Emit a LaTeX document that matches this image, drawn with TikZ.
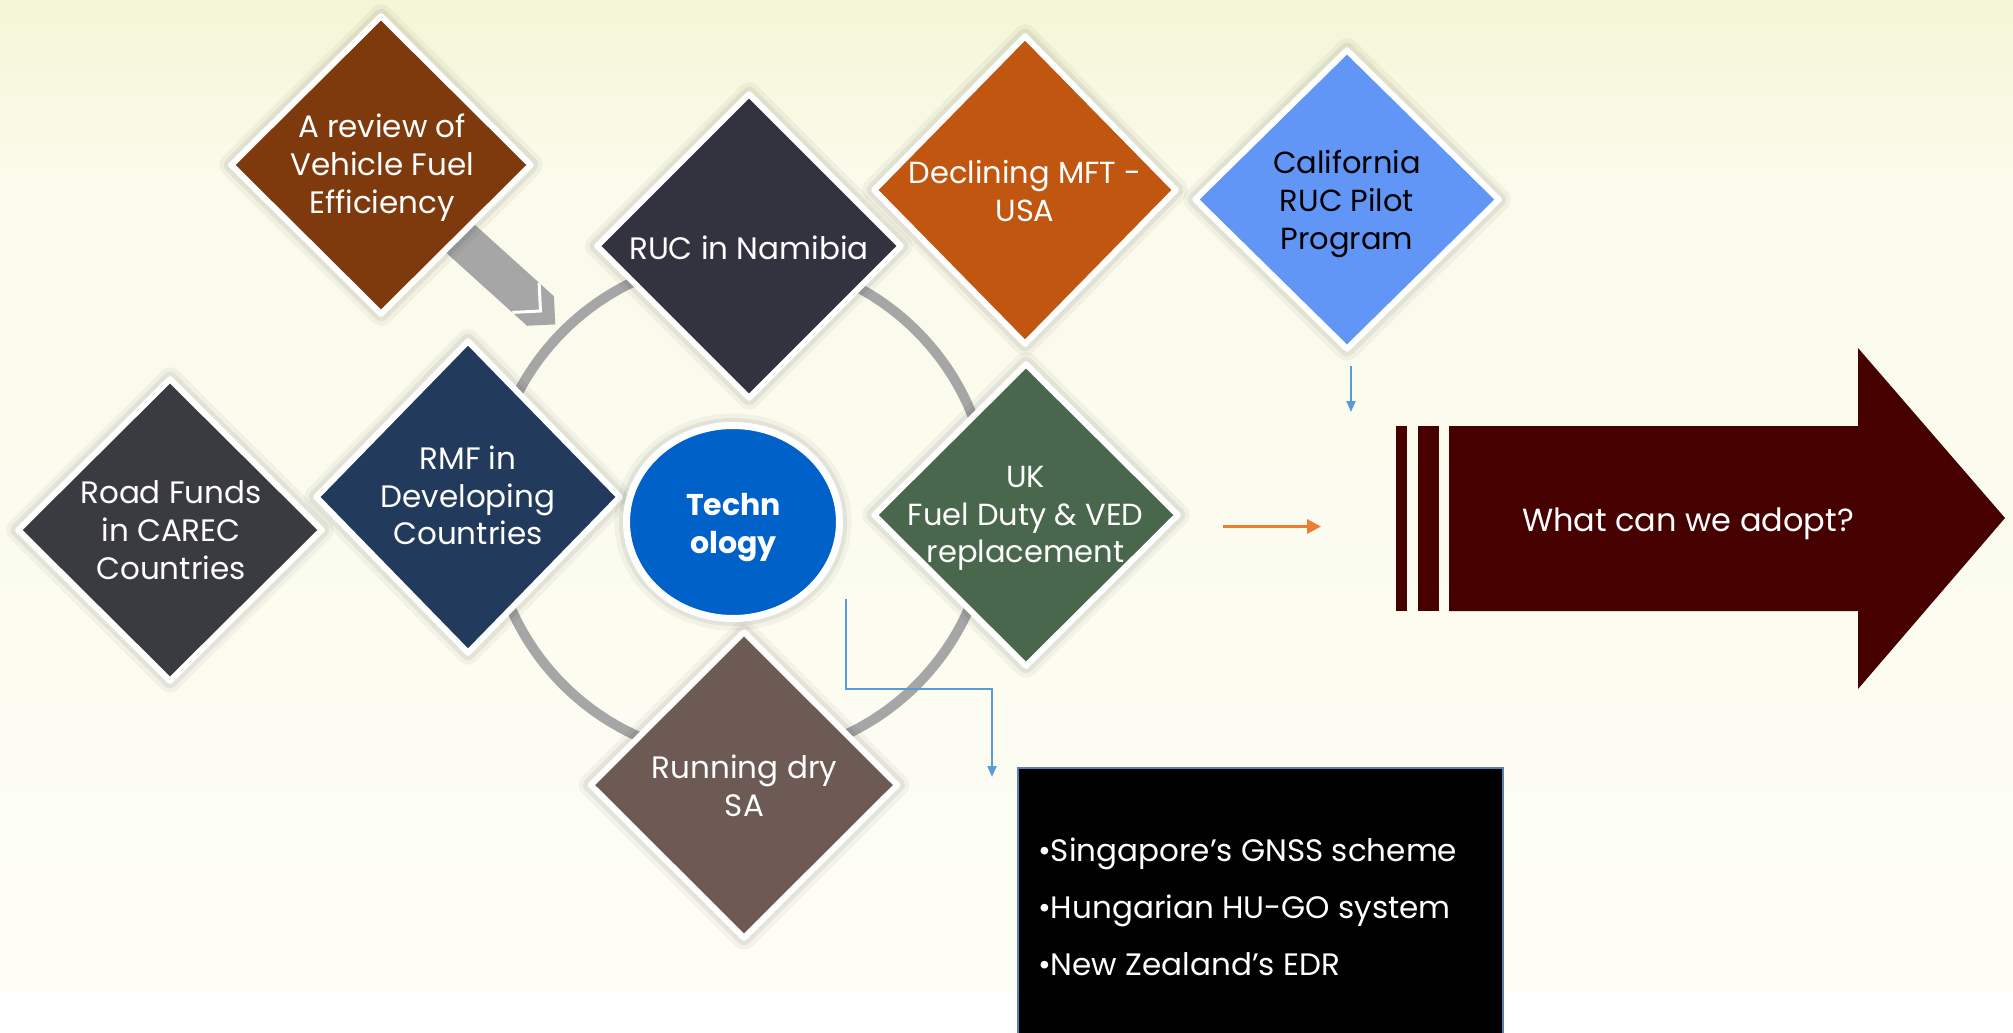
\documentclass[tikz,border=0pt]{standalone}
\usepackage{fontspec}
\setmainfont{Poppins}
\usetikzlibrary{shapes.geometric,arrows.meta}
\definecolor{bgtop}{HTML}{F4F6D6}
\definecolor{bgmid}{HTML}{FAFBEB}
\definecolor{bgbot}{HTML}{FDFDF5}
\definecolor{cbrown}{HTML}{7E3A0D}
\definecolor{cnam}{HTML}{33323F}
\definecolor{cmft}{HTML}{C0560F}
\definecolor{ccal}{HTML}{6196F6}
\definecolor{croad}{HTML}{3A3B40}
\definecolor{crmf}{HTML}{223B5C}
\definecolor{cuk}{HTML}{48674C}
\definecolor{cdry}{HTML}{6D5A54}
\definecolor{ctech}{HTML}{0062C8}
\definecolor{cmaroon}{HTML}{470000}
\definecolor{cring}{HTML}{A6A6A6}
\definecolor{cconn}{HTML}{5B9BD5}
\definecolor{corange}{HTML}{ED7D31}
\definecolor{cboxedge}{HTML}{5A7FB0}
\tikzset{
  softshadow/.style={preaction={draw=black,opacity=0.04,line width=24pt},
                     preaction={draw=black,opacity=0.06,line width=15pt}},
  dia/.style={shape=diamond, inner sep=0pt, draw=white, line width=6pt,
              line join=round, minimum width=306pt, minimum height=306pt, softshadow},
  dtxt/.style={text=white, align=center, inner sep=0pt},
  conn/.style={draw=cconn, line width=2pt},
}
\begin{document}
\begin{tikzpicture}[x=1pt,y=-1pt]
\useasboundingbox (0,0) rectangle (2013,1033);
% background
\fill[white] (0,0) rectangle (2013,1033);
\fill[top color=bgtop, bottom color=bgmid] (0,0) rectangle (2013,180);
\fill[top color=bgmid, bottom color=bgbot] (0,180) rectangle (2013,990);
% ring
\draw[cring, line width=10pt] (740,508) circle[radius=250];
% chevron
\fill[cring] (435.4,189.2) -- (553.9,296.2) -- (555.3,324.4) -- (527.1,325.8) -- (408.6,218.8) -- cycle;
\draw[white, line width=3pt] (539.1,282.8) -- (540.5,311) -- (512.3,312.4);
% diamonds
\node[dia, fill=croad, minimum height=304pt] (road) at (170,530) {};
\node[dia, fill=crmf, minimum height=314pt] (rmf) at (468,497) {};
\node[dia, fill=cbrown, minimum width=302pt, minimum height=300pt] (rev) at (381,165) {};
\node[dia, fill=cnam] (nam) at (749,246) {};
\node[dia, fill=cmft, minimum width=304pt, minimum height=310pt] (mft) at (1025,190) {};
\node[dia, fill=ccal, minimum height=301pt] (cal) at (1347,199.5) {};
\node[dia, fill=cuk, minimum height=304pt] (uk) at (1026,515) {};
\node[dia, fill=cdry, minimum width=309pt, minimum height=308pt] (dry) at (744,785) {};
% technology
\node[shape=ellipse, fill=ctech, draw=white, line width=7pt, minimum width=213pt,
      minimum height=193pt, inner sep=0pt, softshadow] (tech) at (733,522) {};
% texts
\node[dtxt, font=\fontsize{31pt}{38pt}\selectfont] (revt) at (382,167.4)
  {\strut A review of\\\strut Vehicle Fuel\\\strut Efficiency};
\node[dtxt, font=\fontsize{31pt}{38pt}\selectfont] (namt) at (749,251.4)
  {\strut RUC in Namibia};
\node[dtxt, font=\fontsize{30.5pt}{38pt}\selectfont] (mftt) at (1025,194.9)
  {\strut Declining MFT -\\\strut USA};
\node[dtxt, text=black, font=\fontsize{30.5pt}{38pt}\selectfont] (calt) at (1347,203.9)
  {\strut California\\\strut RUC Pilot\\\strut Program};
\node[dtxt, font=\fontsize{31pt}{38pt}\selectfont] (roadt) at (171,533.9)
  {\strut Road Funds\\\strut in CAREC\\\strut Countries};
\node[dtxt, font=\fontsize{31pt}{37.5pt}\selectfont] (rmft) at (468,499.9)
  {\strut RMF in\\\strut Developing\\\strut Countries};
\node[dtxt, font=\fontsize{30.5pt}{37.5pt}\selectfont] (ukt) at (1025.5,517.9)
  {\strut UK\\\strut Fuel Duty \& VED\\\strut replacement};
\node[dtxt, font=\fontsize{31pt}{38pt}\selectfont] (dryt) at (744.5,789.4)
  {\strut Running dry\\\strut SA};
\node[dtxt, font=\bfseries\fontsize{30pt}{38pt}\selectfont] (techt) at (733.5,526.4)
  {\strut Techn\\\strut ology};
% connectors
\coordinate (e1) at (846,599);
\coordinate (e2) at (992,777);
\draw[conn, -{Triangle[length=11pt,width=9pt]}] (e1) -- ++(0,90) -| (e2);
\coordinate (c1) at (1351,366);
\coordinate (c2) at (1351,412);
\draw[conn, -{Triangle[length=11pt,width=9pt]}] (c1) -- (c2);
\coordinate (o1) at (1223,526.5);
\coordinate (o2) at (1321,526.5);
\draw[corange, line width=3pt, -{Triangle[length=14pt,width=14pt]}] (o1) -- (o2);
% big arrow
\fill[cmaroon] (1396,426) rectangle (1407,611);
\fill[cmaroon] (1418,426) rectangle (1439,611);
\fill[cmaroon] (1449,426) -- (1858,426) -- (1858,348) -- (2005,518) -- (1858,689) -- (1858,611) -- (1449,611) -- cycle;
\node[dtxt, font=\fontsize{32pt}{38pt}\selectfont] (adopt) at (1688,523.4) {\strut What can we adopt?};
% black box
\node[draw=cboxedge, fill=black, line width=2pt, minimum width=485pt, minimum height=290pt,
      anchor=north west, inner sep=0pt] (box) at (1017,767) {};
\node[dtxt, align=left, anchor=west, font=\fontsize{31pt}{57pt}\selectfont] (boxt) at (1038,907.5)
  {\strut •Singapore’s GNSS scheme\\\strut •Hungarian HU-GO system\\\strut •New Zealand’s EDR};
\end{tikzpicture}
\end{document}
